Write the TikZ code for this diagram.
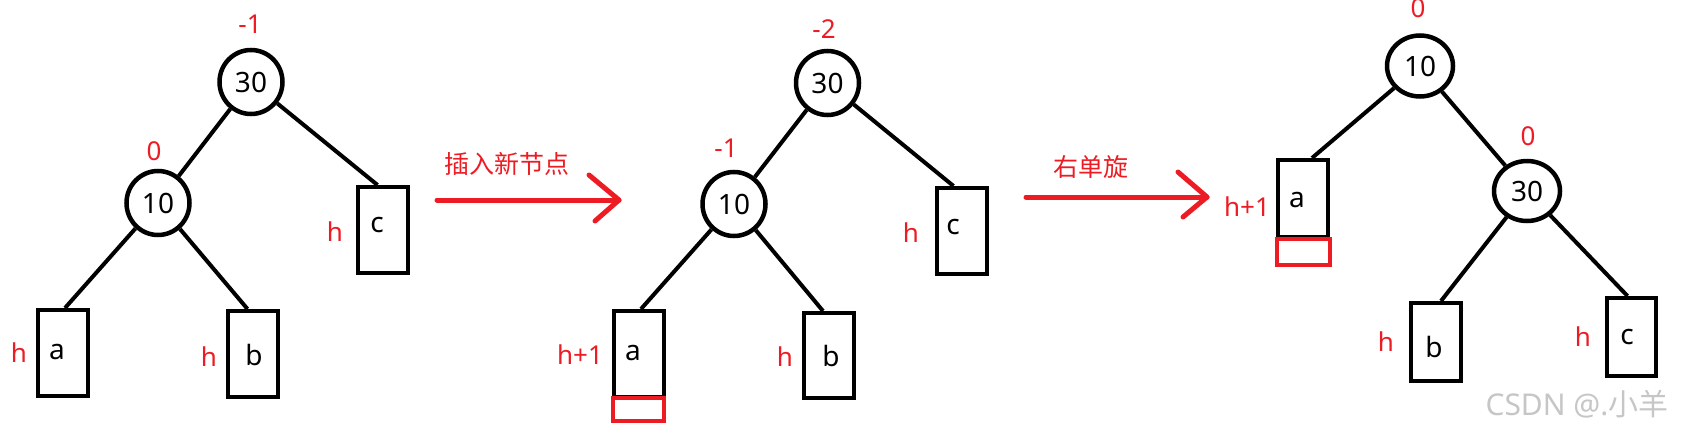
\documentclass[tikz,border=0pt]{standalone}
\usepackage{fontspec}
\setmainfont{Noto Sans}
\newfontfamily\cjk{Noto Sans CJK SC}
\usetikzlibrary{shapes.geometric,calc}
\definecolor{pred}{RGB}{237,28,36}
\definecolor{wm}{RGB}{198,198,198}
\begin{document}
\begin{tikzpicture}[x=0.5pt,y=-0.5pt,
  tnode/.style={ellipse,draw,line width=2.25pt,minimum width=31.5pt,minimum height=32pt,inner sep=0pt,font=\fontsize{14}{16}\selectfont},
  tnodeb/.style={tnode,minimum width=33pt,minimum height=30.5pt},
  subtree/.style={rectangle,draw,line width=2pt,minimum width=25pt,minimum height=43pt,inner sep=0pt},
  newleaf/.style={rectangle,draw=pred,line width=2pt,inner sep=0pt},
  letter/.style={inner sep=0pt,font=\fontsize{14}{16}\selectfont},
  rlab/.style={inner sep=0pt,text=pred,font=\fontsize{13}{15}\selectfont},
  edge/.style={line width=2pt},
  redarrow/.style={draw=pred,line width=2.5pt,line cap=round,line join=round},
  cjklab/.style={inner sep=0pt,text=pred,font=\cjk\fontsize{12.5}{14}\selectfont}
]
\useasboundingbox (0,0) rectangle (1681,439);

% ---------- tree 1 ----------
\node[tnode] (t1r) at (251,82) {30};
\node[tnode] (t1l) at (158,203) {10};
\node[subtree] (a1) at (63,353) {};
\node[subtree] (b1) at (252.5,354) {};
\node[subtree] (c1) at (382.5,230) {};
\node[letter] at (57,352) {a};
\node[letter] at (254,355) {b};
\node[letter] at (377,225) {c};
\node[rlab] at (250,24) {-1};
\node[rlab] at (154,151) {0};
\node[rlab] at (19,353) {h};
\node[rlab] at (209,357) {h};
\node[rlab] at (335,232) {h};
\draw[edge] (t1r) -- (t1l);
\draw[edge] (t1r) -- ($(c1.north)+(-5,0)$);
\draw[edge] (t1l) -- ($(a1.north)+(2,0)$);
\draw[edge] (t1l) -- ($(b1.north)+(-5,0)$);

% ---------- arrow 1 ----------
\coordinate (s1) at (437,200);
\coordinate (e1) at (619,200);
\coordinate (u1) at (589,175);
\coordinate (d1) at (595,221);
\draw[redarrow] (s1) -- (e1);
\draw[redarrow] (u1) -- (e1) -- (d1);
\node[cjklab] at (507,164) {插入新节点};

% ---------- tree 2 ----------
\node[tnode] (t2r) at (827.5,83) {30};
\node[tnode] (t2l) at (734,204) {10};
\node[subtree] (a2) at (638.5,354) {};
\node[newleaf,minimum width=25.5pt,minimum height=11.5pt] (n2) at (638.5,409.5) {};
\node[subtree,minimum height=42.5pt] (b2) at (829,355.5) {};
\node[subtree] (c2) at (961.5,231) {};
\node[letter] at (633,353) {a};
\node[letter] at (831,356) {b};
\node[letter] at (953,227) {c};
\node[rlab] at (824,29) {-2};
\node[rlab] at (726,148) {-1};
\node[rlab] at (580,355) {h+1};
\node[rlab] at (785,357) {h};
\node[rlab] at (911,233) {h};
\draw[edge] (t2r) -- (t2l);
\draw[edge] (t2r) -- ($(c2.north)+(-8,0)$);
\draw[edge] (t2l) -- ($(a2.north)+(2.5,0)$);
\draw[edge] (t2l) -- ($(b2.north)+(-6,0)$);

% ---------- arrow 2 ----------
\coordinate (s2) at (1026,197);
\coordinate (e2) at (1207,197);
\coordinate (u2) at (1178,172);
\coordinate (d2) at (1183,217);
\draw[redarrow] (s2) -- (e2);
\draw[redarrow] (u2) -- (e2) -- (d2);
\node[cjklab] at (1091,167) {右单旋};

% ---------- tree 3 ----------
\node[tnodeb] (t3r) at (1420,66) {10};
\node[tnodeb,minimum height=30pt] (t3c) at (1527,191) {30};
\node[subtree,minimum height=38.5pt] (a3) at (1303,198.5) {};
\node[newleaf,minimum width=26.5pt,minimum height=13pt] (n3) at (1303,252) {};
\node[subtree,minimum height=39pt] (b3) at (1436,342) {};
\node[subtree,minimum width=24.5pt,minimum height=39pt] (c3) at (1631.5,337) {};
\node[letter] at (1297,200) {a};
\node[letter] at (1434,347) {b};
\node[letter] at (1627,337) {c};
\node[rlab] at (1418,8) {0};
\node[rlab] at (1528,136) {0};
\node[rlab] at (1247,207) {h+1};
\node[rlab] at (1386,342) {h};
\node[rlab] at (1583,337) {h};
\draw[edge] (t3r) -- ($(a3.north)+(9,0)$);
\draw[edge] (t3r) -- (t3c);
\draw[edge] (t3c) -- ($(b3.north)+(5,0)$);
\draw[edge] (t3c) -- ($(c3.north)+(-4,0)$);

% ---------- watermark ----------
\node[inner sep=0pt,text=wm,font=\fontsize{15}{17}\selectfont] (wmk) at (1577,404) {CSDN @.{\cjk 小羊}};
\end{tikzpicture}
\end{document}
